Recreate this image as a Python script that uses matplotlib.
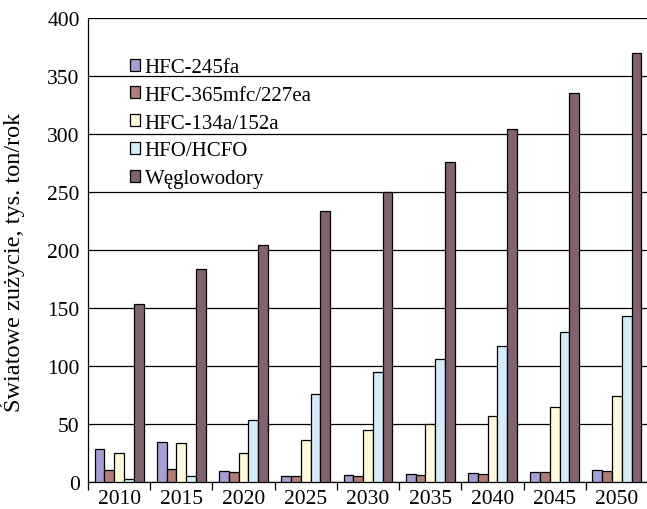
import matplotlib
matplotlib.use("Agg")
import matplotlib.pyplot as plt
import numpy as np

years = ["2010", "2015", "2020", "2025", "2030", "2035", "2040", "2045", "2050"]
series_names = ["HFC-245fa", "HFC-365mfc/227ea", "HFC-134a/152a", "HFO/HCFO", "Węglowodory"]
hfc245fa = [28, 34, 9, 5, 6, 7, 7.5, 8.5, 10]
hfc365 = [10, 11, 8, 4.5, 5, 6, 6.5, 8, 9]
hfc134a = [25, 33, 25, 36, 45, 50, 57, 64, 74]
hfo = [2, 4.5, 53, 76, 95, 106, 117, 129, 143]
hc = [153, 183, 204, 233, 250, 276, 304, 335, 370]
colors = ["#A69ED2", "#B07C78", "#FFFADA", "#D5ECFB", "#826270"]

plt.rcParams['font.family'] = ['Liberation Serif', 'DejaVu Serif']

fig = plt.figure(figsize=(6.47, 5.10), dpi=100)
ax = fig.add_axes([88/647, 27.3/510, 560/647, 464/510])

x = np.arange(len(years))
bw = 0.157
data = [hfc245fa, hfc365, hfc134a, hfo, hc]
for i, (vals, name, c) in enumerate(zip(data, series_names, colors)):
    ax.bar(x + (i - 2) * bw, vals, width=bw, color=c, edgecolor="black",
           linewidth=0.9, label=name, zorder=3)

ax.set_xlim(-0.5, len(years) - 0.5)
ax.set_ylim(0, 400)
ax.set_yticks(np.arange(0, 401, 50))
ax.yaxis.grid(True, color="black", linewidth=0.9, zorder=0)
ax.set_axisbelow(True)
for s in ["top", "right"]:
    ax.spines[s].set_visible(False)
ax.spines["left"].set_linewidth(0.9)
ax.spines["bottom"].set_linewidth(0.9)

ax.set_xticks(x)
ax.set_xticklabels(years, fontsize=15.5)
ax.tick_params(axis="x", which="major", length=0, pad=5)
ax.set_xticks(np.arange(-0.5, len(years), 1), minor=True)
ax.tick_params(axis="x", which="minor", length=6, width=0.9, direction="out")
ax.tick_params(axis="y", length=0, pad=6, labelsize=15.5)

ax.set_ylabel("Światowe zużycie, tys. ton/rok", fontsize=17.5)
ax.yaxis.set_label_coords(-0.112, 0.475)

leg = ax.legend(loc="upper left", bbox_to_anchor=(0.075, 0.913), frameon=False,
                fontsize=15, handlelength=0.5, handleheight=0.5,
                handletextpad=0.2, labelspacing=0.42, borderpad=0, borderaxespad=0)

fig.savefig("out.png", dpi=100)
